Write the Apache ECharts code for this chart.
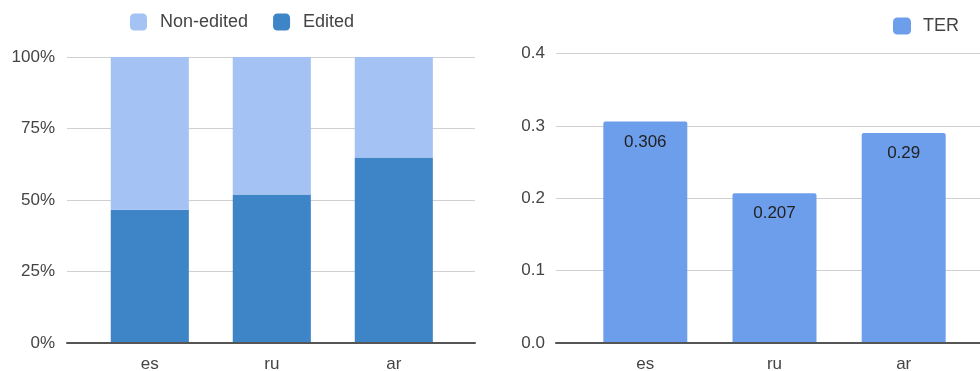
<!DOCTYPE html>
<html>
<head>
<meta charset="utf-8">
<script src="https://cdn.jsdelivr.net/npm/echarts@6/dist/echarts.min.js"></script>
<style>
  html, body { margin: 0; padding: 0; background: #fff; }
  #chart { width: 980px; height: 371px; }
</style>
</head>
<body>
<div id="chart"></div>
<script>
// Languages on both charts
const categories = ['es', 'ru', 'ar'];
// Share of segments, in percent
const edited = [46.6, 51.9, 64.9];
const nonEdited = [53.4, 48.1, 35.1];
// Translation edit rate per language
const ter = [0.306, 0.207, 0.29];
// Tick values
const pctTicks = [0, 25, 50, 75, 100];
const terTicks = [0, 0.1, 0.2, 0.3, 0.4];

const FONT = 'Liberation Sans, Arial, sans-serif';
const TEXT = '#444';
const COLORS = { nonEdited: '#a4c2f4', edited: '#3d85c6', ter: '#6d9eeb' };

// Background grids carry gridlines, tick labels and baseline;
// data grids hold the category bars.
const plotTop = 57, plotH = 286;
const rTop = 53.5, rH = 289.5;

const chart = echarts.init(document.getElementById('chart'), null, { renderer: 'canvas' });

const baseAxis = gi => ({
  type: 'value', gridIndex: gi, min: 0, max: 1, show: true, z: 10,
  axisLine: { show: true, onZero: false, lineStyle: { color: '#555', width: 2 } },
  axisTick: { show: false }, axisLabel: { show: false }, splitLine: { show: false }
});

const catAxis = gi => ({
  type: 'category', gridIndex: gi, data: categories,
  axisLine: { show: false }, axisTick: { show: false }, splitLine: { show: false },
  axisLabel: { fontSize: 17, color: TEXT, margin: 13, fontFamily: FONT }
});

const barStyle = color => ({ color, borderWidth: 0 });

// Fixed plot rectangles: keep labels from resizing the grids
const grid = (left, width, top, height) =>
  ({ left, width, top, height, containLabel: false, outerBoundsMode: 'none' });

chart.setOption({
  animation: false,
  textStyle: { fontFamily: FONT },
  legend: [
    {
      data: ['Non-edited', 'Edited'],
      left: 130, top: 13, padding: 0,
      itemWidth: 17, itemHeight: 17, itemGap: 25,
      icon: 'roundRect',
      textStyle: { fontSize: 18, color: TEXT, fontFamily: FONT, padding: [0, 0, 0, 8] }
    },
    {
      data: ['TER'],
      left: 893, top: 17, padding: 0,
      itemWidth: 18, itemHeight: 17,
      icon: 'roundRect',
      textStyle: { fontSize: 18, color: TEXT, fontFamily: FONT, padding: [0, 0, 0, 7] }
    }
  ],
  grid: [
    grid(67, 408, plotTop, plotH),
    grid(88.8, 366, plotTop, plotH),
    grid(556, 424, rTop, rH),
    grid(580.7, 387.6, rTop, rH)
  ],
  xAxis: [baseAxis(0), catAxis(1), baseAxis(2), catAxis(3)],
  yAxis: [
    {
      type: 'value', gridIndex: 0, min: pctTicks[0], max: pctTicks[pctTicks.length - 1],
      interval: pctTicks[1] - pctTicks[0],
      axisLine: { show: false }, axisTick: { show: false },
      axisLabel: { fontSize: 17, color: TEXT, margin: 12, fontFamily: FONT,
        formatter: v => v + '%' },
      splitLine: { lineStyle: { color: '#d0d0d0', width: 1 } }
    },
    { type: 'value', gridIndex: 1, min: 0, max: 100, show: false },
    {
      type: 'value', gridIndex: 2, min: terTicks[0], max: terTicks[terTicks.length - 1],
      interval: 0.1,
      axisLine: { show: false }, axisTick: { show: false },
      axisLabel: { fontSize: 17, color: TEXT, margin: 11, fontFamily: FONT,
        formatter: v => v.toFixed(1) },
      splitLine: { lineStyle: { color: '#d0d0d0', width: 1 } }
    },
    { type: 'value', gridIndex: 3, min: 0, max: 0.4, show: false }
  ],
  series: [
    {
      name: 'Edited', type: 'bar', stack: 'share',
      xAxisIndex: 1, yAxisIndex: 1, data: edited,
      barWidth: '64%', itemStyle: barStyle(COLORS.edited), z: 3
    },
    {
      name: 'Non-edited', type: 'bar', stack: 'share',
      xAxisIndex: 1, yAxisIndex: 1, data: nonEdited,
      barWidth: '64%', itemStyle: barStyle(COLORS.nonEdited), z: 3
    },
    {
      name: 'TER', type: 'bar',
      xAxisIndex: 3, yAxisIndex: 3, data: ter,
      barWidth: '65%', z: 3,
      itemStyle: Object.assign(barStyle(COLORS.ter), { borderRadius: [2, 2, 0, 0] }),
      label: {
        show: true, position: 'insideTop', distance: 12,
        fontSize: 17, color: '#222', fontFamily: FONT,
        formatter: p => String(p.value)
      }
    }
  ]
});
</script>
</body>
</html>
